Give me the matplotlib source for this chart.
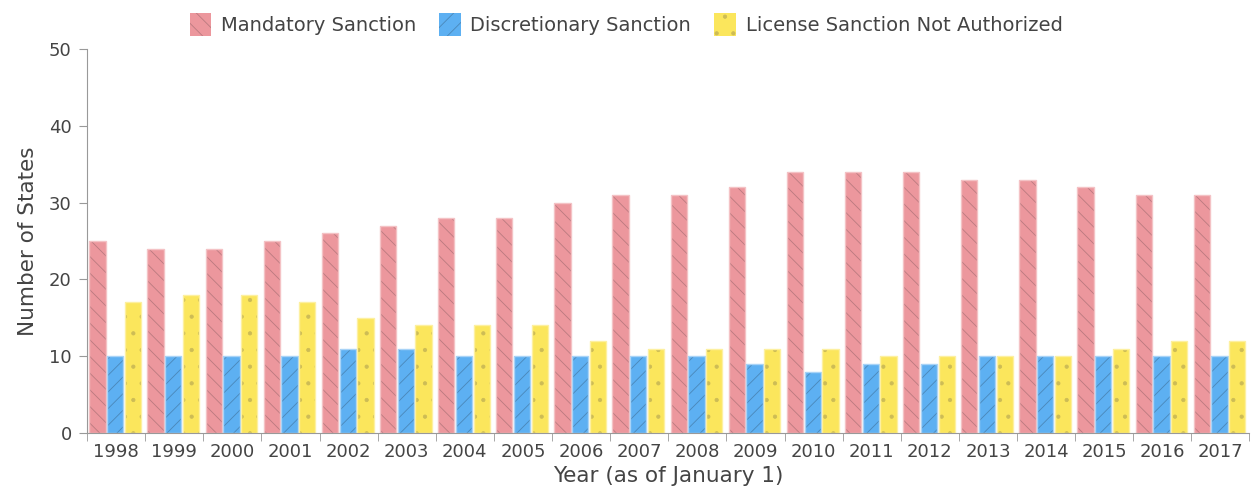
import numpy as np
import matplotlib
matplotlib.use("Agg")
from matplotlib import pyplot as plt

years = [str(y) for y in range(1998, 2018)]
mandatory = [25, 24, 24, 25, 26, 27, 28, 28, 30, 31, 31, 32, 34, 34, 34, 33, 33, 32, 31, 31]
discretionary = [10, 10, 10, 10, 11, 11, 10, 10, 10, 10, 10, 9, 8, 9, 9, 10, 10, 10, 10, 10]
not_authorized = [17, 18, 18, 17, 15, 14, 14, 14, 12, 11, 11, 11, 11, 10, 10, 10, 10, 11, 12, 12]

series = [
	("Mandatory Sanction", mandatory, "#EC979D", "#b97a7f", "#f4c2c5", "\\\\"),
	("Discretionary Sanction", discretionary, "#5DB0F2", "#4a87b8", "#a8d3f7", "//"),
	("License Sanction Not Authorized", not_authorized, "#FBE65C", "#cdbc55", "#fdf0a0", "."),
]

grey = "#444444"
plt.rcParams["hatch.linewidth"] = 0.6
fig = plt.figure(figsize=(12.52, 5), dpi=100)
ax = fig.add_axes([0.0695, 0.134, 0.9285, 0.768])

x = np.arange(len(years))
w = 0.28
offs = [-0.32, -0.015, 0.29]
handles = []
for (name, vals, fc, hc, bc, hatch), off in zip(series, offs):
	b = ax.bar(x + off, vals, w, color=fc, edgecolor=hc, linewidth=0, hatch=hatch, label=name)
	ax.bar(x + off, vals, w, fill=False, edgecolor=bc, linewidth=1)
	handles.append(b)

ax.set_xlim(-0.5, len(years) - 0.5)
ax.set_ylim(0, 50)
ax.set_yticks([0, 10, 20, 30, 40, 50])
ax.set_xticks(x)
ax.set_xticklabels(years)
ax.set_xticks(np.arange(-0.5, len(years), 1), minor=True)
ax.tick_params(axis="x", which="major", length=0, labelsize=13, colors=grey, pad=7)
ax.tick_params(axis="x", which="minor", length=6, color="#999999")
ax.tick_params(axis="y", length=6, color="#999999", labelsize=13, labelcolor=grey, pad=5)
for s in ["top", "right"]:
	ax.spines[s].set_visible(False)
for s in ["left", "bottom"]:
	ax.spines[s].set_color("#999999")
ax.set_ylabel("Number of States", fontsize=15.5, color=grey, labelpad=8)
ax.set_xlabel("Year (as of January 1)", fontsize=15.5, color=grey, labelpad=4)

fig.legend(handles=handles, loc="upper center", bbox_to_anchor=(0.5, 1.01), ncol=3, frameon=False,
	fontsize=14, labelcolor=grey, handlelength=1.1, handleheight=1.5, columnspacing=1.2, handletextpad=0.5)

fig.savefig("out.png", dpi=100)
